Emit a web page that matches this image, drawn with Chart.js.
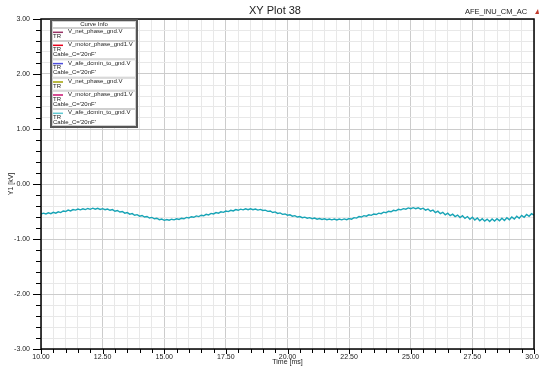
<!DOCTYPE html>
<html><head><meta charset="utf-8">
<script src="https://cdn.jsdelivr.net/npm/chart.js@4/dist/chart.umd.min.js"></script>
<style>html,body{margin:0;padding:0;background:#fff}#wrap{width:539px;height:366px;position:relative}</style>
</head><body><div id="wrap"><canvas id="c" width="539" height="366"></canvas></div>
<script>
const chartTitle = 'XY Plot 38';
const designName = 'AFE_INU_CM_AC';
const xTitle = 'Time [ms]';
const yTitle = 'Y1 [kV]';
const legendHeader = 'Curve Info';
const legendNames = ['V_net_phase_gnd.V','V_motor_phase_gnd1.V','V_afe_dcmin_to_gnd.V','V_net_phase_gnd.V','V_motor_phase_gnd1.V','V_afe_dcmin_to_gnd.V'];
const legendSub = [['TR'],['TR',"Cable_C='20nF'"],['TR',"Cable_C='20nF'"],['TR'],['TR',"Cable_C='20nF'"],['TR',"Cable_C='20nF'"]];
const legendColors = ['#993366','#e8001c','#4c4cdc','#a0a000','#c8106e','#5ec8d2'];
const curveColor = '#18a4b6';

const times = [
10.0,10.1,10.2,10.3,10.4,10.5,10.6,10.7,10.8,10.9,
11.0,11.1,11.2,11.3,11.4,11.5,11.6,11.7,11.8,11.9,
12.0,12.1,12.2,12.3,12.4,12.5,12.6,12.7,12.8,12.9,
13.0,13.1,13.2,13.3,13.4,13.5,13.6,13.7,13.8,13.9,
14.0,14.1,14.2,14.3,14.4,14.5,14.6,14.7,14.8,14.9,
15.0,15.1,15.2,15.3,15.4,15.5,15.6,15.7,15.8,15.9,
16.0,16.1,16.2,16.3,16.4,16.5,16.6,16.7,16.8,16.9,
17.0,17.1,17.2,17.3,17.4,17.5,17.6,17.7,17.8,17.9,
18.0,18.1,18.2,18.3,18.4,18.5,18.6,18.7,18.8,18.9,
19.0,19.1,19.2,19.3,19.4,19.5,19.6,19.7,19.8,19.9,
20.0,20.1,20.2,20.3,20.4,20.5,20.6,20.7,20.8,20.9,
21.0,21.1,21.2,21.3,21.4,21.5,21.6,21.7,21.8,21.9,
22.0,22.1,22.2,22.3,22.4,22.5,22.6,22.7,22.8,22.9,
23.0,23.1,23.2,23.3,23.4,23.5,23.6,23.7,23.8,23.9,
24.0,24.1,24.2,24.3,24.4,24.5,24.6,24.7,24.8,24.9,
25.0,25.1,25.2,25.3,25.4,25.5,25.6,25.7,25.8,25.9,
26.0,26.1,26.2,26.3,26.4,26.5,26.6,26.7,26.8,26.9,
27.0,27.1,27.2,27.3,27.4,27.5,27.6,27.7,27.8,27.9,
28.0,28.1,28.2,28.3,28.4,28.5,28.6,28.7,28.8,28.9,
29.0,29.1,29.2,29.3,29.4,29.5,29.6,29.7,29.8,29.9,
30.0];

const voltsKV = [
-0.545,-0.530,-0.545,-0.525,-0.540,-0.515,-0.530,-0.505,-0.520,-0.490,
-0.500,-0.475,-0.490,-0.465,-0.475,-0.455,-0.470,-0.450,-0.465,-0.445,
-0.460,-0.440,-0.458,-0.442,-0.462,-0.448,-0.468,-0.455,-0.478,-0.465,
-0.495,-0.482,-0.510,-0.500,-0.530,-0.520,-0.548,-0.538,-0.568,-0.558,
-0.585,-0.572,-0.600,-0.590,-0.618,-0.608,-0.632,-0.622,-0.648,-0.638,
-0.660,-0.645,-0.658,-0.640,-0.652,-0.632,-0.645,-0.622,-0.632,-0.608,
-0.618,-0.595,-0.605,-0.580,-0.592,-0.568,-0.578,-0.552,-0.562,-0.535,
-0.545,-0.520,-0.530,-0.505,-0.515,-0.492,-0.502,-0.478,-0.490,-0.465,
-0.478,-0.458,-0.470,-0.452,-0.468,-0.450,-0.468,-0.455,-0.475,-0.462,
-0.482,-0.475,-0.498,-0.490,-0.518,-0.508,-0.535,-0.525,-0.552,-0.545,
-0.568,-0.560,-0.585,-0.575,-0.600,-0.592,-0.612,-0.602,-0.622,-0.612,
-0.632,-0.620,-0.640,-0.628,-0.645,-0.632,-0.650,-0.636,-0.652,-0.638,
-0.655,-0.638,-0.652,-0.635,-0.648,-0.628,-0.640,-0.612,-0.620,-0.592,
-0.600,-0.575,-0.585,-0.560,-0.570,-0.545,-0.555,-0.530,-0.540,-0.512,
-0.522,-0.495,-0.505,-0.478,-0.488,-0.460,-0.470,-0.448,-0.458,-0.435,
-0.450,-0.430,-0.448,-0.432,-0.458,-0.440,-0.475,-0.455,-0.495,-0.475,
-0.520,-0.495,-0.540,-0.515,-0.560,-0.530,-0.575,-0.548,-0.592,-0.565,
-0.610,-0.578,-0.625,-0.592,-0.640,-0.605,-0.655,-0.618,-0.668,-0.630,
-0.675,-0.638,-0.680,-0.635,-0.672,-0.630,-0.668,-0.622,-0.662,-0.612,
-0.650,-0.600,-0.638,-0.585,-0.622,-0.570,-0.605,-0.555,-0.588,-0.540,
-0.565];

const FONT = "'Liberation Sans', Arial, sans-serif";
const isMult = (v, s) => Math.abs(v / s - Math.round(v / s)) < 1e-6;
const fmtInt = v => { const r = Math.round(v); return (r === 0 ? 0 : r).toFixed(2); };

const decorPlugin = {
  id: 'decor',
  afterDraw(chart) {
    const ctx = chart.ctx;
    const a = chart.chartArea;
    const xs = chart.scales.x, ys = chart.scales.y;
    ctx.save();
    ctx.strokeStyle = '#000';
    ctx.lineWidth = 1;
    ys.ticks.forEach(t => {
      const p = Math.round(ys.getPixelForValue(t.value)) + 0.5;
      const len = isMult(t.value, 1) ? 8 : 5;
      ctx.beginPath(); ctx.moveTo(a.left - len, p); ctx.lineTo(a.left, p); ctx.stroke();
    });
    xs.ticks.forEach(t => {
      const p = Math.round(xs.getPixelForValue(t.value)) + 0.5;
      const len = isMult(t.value, 2.5) ? 5 : 4;
      ctx.beginPath(); ctx.moveTo(p, a.bottom); ctx.lineTo(p, a.bottom + len); ctx.stroke();
    });
    ctx.lineWidth = 1.5;
    ctx.strokeRect(a.left, a.top, a.right - a.left, a.bottom - a.top);

    ctx.fillStyle = '#222';
    ctx.textBaseline = 'middle';
    ctx.textAlign = 'center';
    ctx.font = '11px ' + FONT;
    ctx.fillText(chartTitle, 275, 11);
    ctx.textAlign = 'left';
    ctx.font = '7.5px ' + FONT;
    ctx.fillText(designName, 465, 12);
    ctx.fillStyle = '#c0392b';
    ctx.beginPath(); ctx.moveTo(535, 14); ctx.lineTo(538, 9); ctx.lineTo(539, 14); ctx.closePath(); ctx.fill();

    const lx = 51, ly = 20, lw = 86, lh = 107;
    ctx.fillStyle = '#fff';
    ctx.fillRect(lx, ly, lw, lh);
    const tops = [28, 41, 59.3, 77.7, 90.7, 109];
    const bottoms = [41, 59.3, 77.7, 90.7, 109, 126];
    ctx.strokeStyle = '#cfcfcf';
    ctx.lineWidth = 1;
    ctx.strokeRect(lx + 1.5, ly + 1.5, lw - 3, 28 - ly - 2);
    ctx.fillStyle = '#222';
    ctx.textAlign = 'center';
    ctx.font = '6px ' + FONT;
    ctx.fillText(legendHeader, lx + lw / 2, 24.5);
    for (let i = 0; i < legendNames.length; i++) {
      const top = tops[i];
      ctx.strokeStyle = '#cfcfcf';
      ctx.lineWidth = 1;
      ctx.strokeRect(lx + 1.5, top + 0.5, lw - 3, bottoms[i] - top - 1);
      ctx.strokeStyle = legendColors[i];
      ctx.lineWidth = 1.5;
      ctx.beginPath(); ctx.moveTo(53, top + 4.3); ctx.lineTo(63, top + 4.3); ctx.stroke();
      ctx.fillStyle = '#222';
      ctx.textAlign = 'left';
      ctx.fillText(legendNames[i], 68, top + 3.7);
      legendSub[i].forEach((s, j) => ctx.fillText(s, 53, top + 8.4 + j * 4.8));
    }
    ctx.strokeStyle = '#555';
    ctx.lineWidth = 2;
    ctx.strokeRect(lx, ly, lw, lh);
    ctx.restore();
  }
};

new Chart(document.getElementById('c'), {
  type: 'line',
  data: {
    datasets: [{
      label: legendNames[5],
      data: times.map((t, i) => ({ x: t, y: voltsKV[i] })),
      borderColor: curveColor,
      borderWidth: 1.4,
      pointRadius: 0,
      tension: 0,
      fill: false
    }]
  },
  options: {
    responsive: false,
    animation: false,
    devicePixelRatio: 1,
    layout: { padding: { top: 19, left: 0, right: 5, bottom: 0 } },
    plugins: { legend: { display: false }, tooltip: { enabled: false }, title: { display: false } },
    scales: {
      x: {
        type: 'linear', min: 10, max: 30,
        ticks: {
          stepSize: 0.5, autoSkip: false, maxRotation: 0, padding: 4,
          font: { size: 7, family: FONT }, color: '#222',
          callback: v => isMult(v, 2.5) ? v.toFixed(2) : ''
        },
        grid: { drawTicks: false, lineWidth: 1, color: c => isMult(c.tick.value, 2.5) ? '#cccccc' : '#e8e8e8' },
        border: { display: false },
        title: { display: true, text: xTitle, font: { size: 7, family: FONT }, color: '#222', padding: { top: 0, bottom: 0 } },
        afterFit: s => { s.height = 17; s.paddingLeft = 0; s.paddingRight = 0; }
      },
      y: {
        type: 'linear', min: -3, max: 3,
        ticks: {
          stepSize: 0.2, autoSkip: false, padding: 11,
          font: { size: 7, family: FONT }, color: '#222',
          callback: v => isMult(v, 1) ? fmtInt(v) : ''
        },
        grid: { drawTicks: false, lineWidth: 1, color: c => isMult(c.tick.value, 1) ? '#cccccc' : '#e8e8e8' },
        border: { display: false },
        title: { display: true, text: yTitle, font: { size: 7, family: FONT }, color: '#222', padding: { top: 7, bottom: 0 } },
        afterFit: s => { s.width = 41; s.paddingTop = 0; s.paddingBottom = 0; }
      }
    }
  },
  plugins: [decorPlugin]
});
</script>
</body></html>
